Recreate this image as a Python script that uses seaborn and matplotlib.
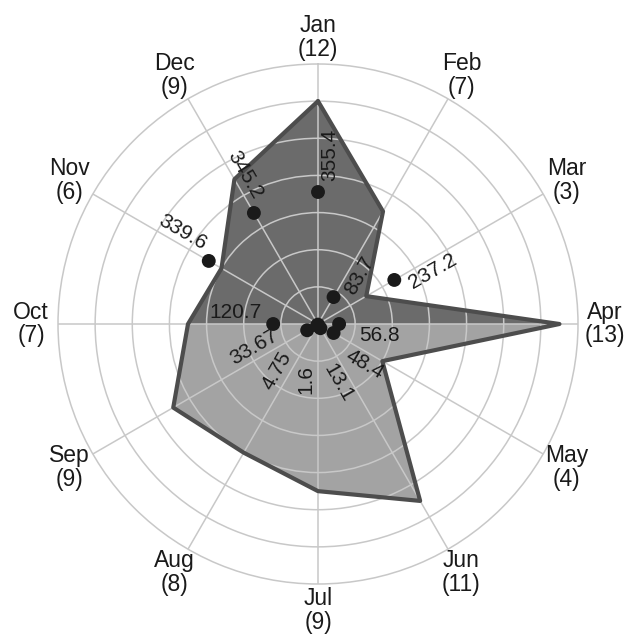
import numpy as np
import matplotlib.pyplot as plt
import seaborn as sns
from matplotlib.transforms import offset_copy

months = ["Jan", "Feb", "Mar", "Apr", "May", "Jun",
          "Jul", "Aug", "Sep", "Oct", "Nov", "Dec"]
counts = [12, 7, 3, 13, 4, 11, 9, 8, 9, 7, 6, 9]
values = [355.4, 83.7, 237.2, 56.8, 48.4, 13.1, 1.6, 4.75, 33.67, 120.7, 339.6, 345.2]
value_text = ["355.4", "83.7", "237.2", "56.8", "48.4", "13.1",
              "1.6", "4.75", "33.67", "120.7", "339.6", "345.2"]

sns.set_theme(style="white")
plt.rcParams['font.family'] = ['Liberation Sans', 'DejaVu Sans']

grid_col = '#c8c8c8'
text_col = '#1a1a1a'

fig = plt.figure(figsize=(6.35, 6.41), dpi=100)
ax = fig.add_axes([58/635, 57/641, 520/635, 520/641], projection='polar')
ax.set_theta_zero_location('N')
ax.set_theta_direction(-1)

theta = np.deg2rad(np.arange(len(months)) * 30)
cnt = np.array(counts, dtype=float)
# values share the radial scale: 100 units per ring (2 counts)
r_val = np.array(values) / 50

# polygon split at Oct/Apr (horizontal line through centre)
up = [9, 10, 11, 0, 1, 2, 3]
low = [3, 4, 5, 6, 7, 8, 9]
ax.fill(np.append(theta[up], 0), np.append(cnt[up], 0), color='#6b6b6b', lw=0, zorder=1)
ax.fill(np.append(theta[low], 0), np.append(cnt[low], 0), color='#a3a3a3', lw=0, zorder=1)
ax.plot(np.append(theta, theta[0]), np.append(cnt, cnt[0]), color='#4d4d4d', lw=3,
        solid_joinstyle='round', zorder=3)

sns.scatterplot(x=theta, y=r_val, ax=ax, color='#1a1a1a', s=100, edgecolor='none',
                zorder=4, legend=False)

ax.set_ylim(0, 14)
ax.set_yticks(np.arange(2, 14, 2))
ax.set_yticklabels([])
ax.set_xticks(theta)
ax.set_xticklabels([])
ax.grid(True, color=grid_col, lw=1.1)
ax.set_axisbelow(False)
ax.spines['polar'].set_color(grid_col)
ax.spines['polar'].set_linewidth(1.1)
ax.set_xlabel('')
ax.set_ylabel('')

# value labels along each spoke
for i, t in enumerate(theta):
    phi = 90 - 30 * i
    if phi <= -180:
        phi += 360
    outward = -90 < phi <= 90
    rot = phi if outward else phi + 180
    if rot > 180:
        rot -= 360
    ha = 'left' if outward else 'right'
    rl = max(r_val[i] + 0.6, 2.2)
    a = np.deg2rad(phi - 90)
    tr = offset_copy(ax.transData, fig=fig, x=8.5 * np.cos(a), y=8.5 * np.sin(a), units='points')
    ax.text(t, rl, value_text[i], transform=tr, rotation=rot, rotation_mode='anchor',
            ha=ha, va='center', fontsize=15, color=text_col, zorder=5)

# month labels with counts
for i, t in enumerate(theta):
    ax.text(t, 15.45, f"{months[i]}\n({counts[i]})", ha='center', va='center',
            fontsize=16.5, color=text_col, linespacing=1.05)

fig.savefig('out.png', dpi=100)
